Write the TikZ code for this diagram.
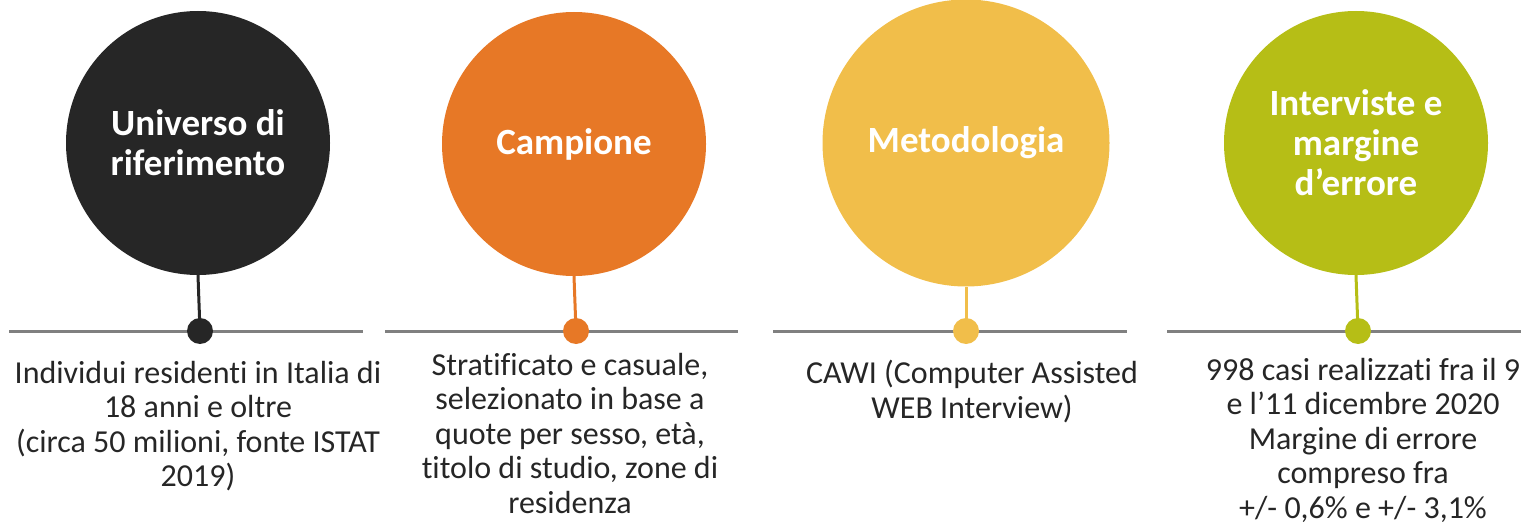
\documentclass[tikz,border=0pt]{standalone}
\usepackage{fontspec}
\setmainfont{Carlito}[Ligatures=NoCommon]
\definecolor{nero}{HTML}{262626}
\definecolor{arancio}{HTML}{E77826}
\definecolor{giallo}{HTML}{F1BE4A}
\definecolor{verde}{HTML}{B6BE16}
\definecolor{grigio}{HTML}{808080}
\tikzset{
  cerchio/.style={circle, inner sep=0pt, minimum size=264pt, text=white,
    font=\bfseries\fontsize{37}{40}\selectfont, align=center},
  punto/.style={circle, inner sep=0pt, minimum size=26pt},
  gambo/.style={line width=3pt},
  asse/.style={draw=grigio, line width=3pt},
  testo/.style={text=nero, font=\fontsize{32}{34.5}\selectfont, align=center,
    anchor=north, inner sep=0pt}
}
\begin{document}
\begin{tikzpicture}[x=1pt, y=-1pt]
    \useasboundingbox (0,0) rectangle (1524,524);

    % Universo di riferimento
    \node[cerchio, fill=nero] (uni) at (198,143) {Universo di\\riferimento};
    \coordinate (uniSx) at (9,331);
    \coordinate (uniDx) at (363,331);
    \draw[asse] (uniSx) -- (uniDx);
    \node[punto, fill=nero] (uniPt) at (200,331) {};
    \draw[gambo, draw=nero] (uni.south) -- (uniPt.center);
    \node[testo] (uniTxt) at (198,361) {Individui residenti in Italia di\\18 anni e oltre\\ (circa 50 milioni, fonte ISTAT\\2019)};

    % Campione
    \node[cerchio, fill=arancio] (camp) at (574,144) {Campione};
    \coordinate (campSx) at (385,331);
    \coordinate (campDx) at (738,331);
    \draw[asse] (campSx) -- (campDx);
    \node[punto, fill=arancio] (campPt) at (576,331) {};
    \draw[gambo, draw=arancio] (camp.south) -- (campPt.center);
    \node[testo] (campTxt) at (570,353) {Stratificato e casuale,\\selezionato in base a\\quote per sesso, età,\\titolo di studio, zone di\\residenza};

    % Metodologia
    \node[cerchio, fill=giallo, minimum size=287pt] (metod) at (966,143) {Metodologia};
    \coordinate (metodSx) at (773,331);
    \coordinate (metodDx) at (1127,331);
    \draw[asse] (metodSx) -- (metodDx);
    \node[punto, fill=giallo] (metodPt) at (966,331) {};
    \draw[gambo, draw=giallo] (metod.south) -- (metodPt.center);
    \node[testo] (metodTxt) at (972,360) {CAWI (Computer Assisted\\WEB Interview)};

    % Interviste e margine d'errore
    \node[cerchio, fill=verde] (interv) at (1356,143) {Interviste e\\margine\\d’errore};
    \coordinate (intervSx) at (1167,331);
    \coordinate (intervDx) at (1521,331);
    \draw[asse] (intervSx) -- (intervDx);
    \node[punto, fill=verde] (intervPt) at (1358,331) {};
    \draw[gambo, draw=verde] (interv.south) -- (intervPt.center);
    \node[testo] (intervTxt) at (1363,358) {998 casi realizzati fra il 9\\e l’11 dicembre 2020\\Margine di errore\\compreso fra\\+/- 0,6\% e +/- 3,1\%};
\end{tikzpicture}
\end{document}
